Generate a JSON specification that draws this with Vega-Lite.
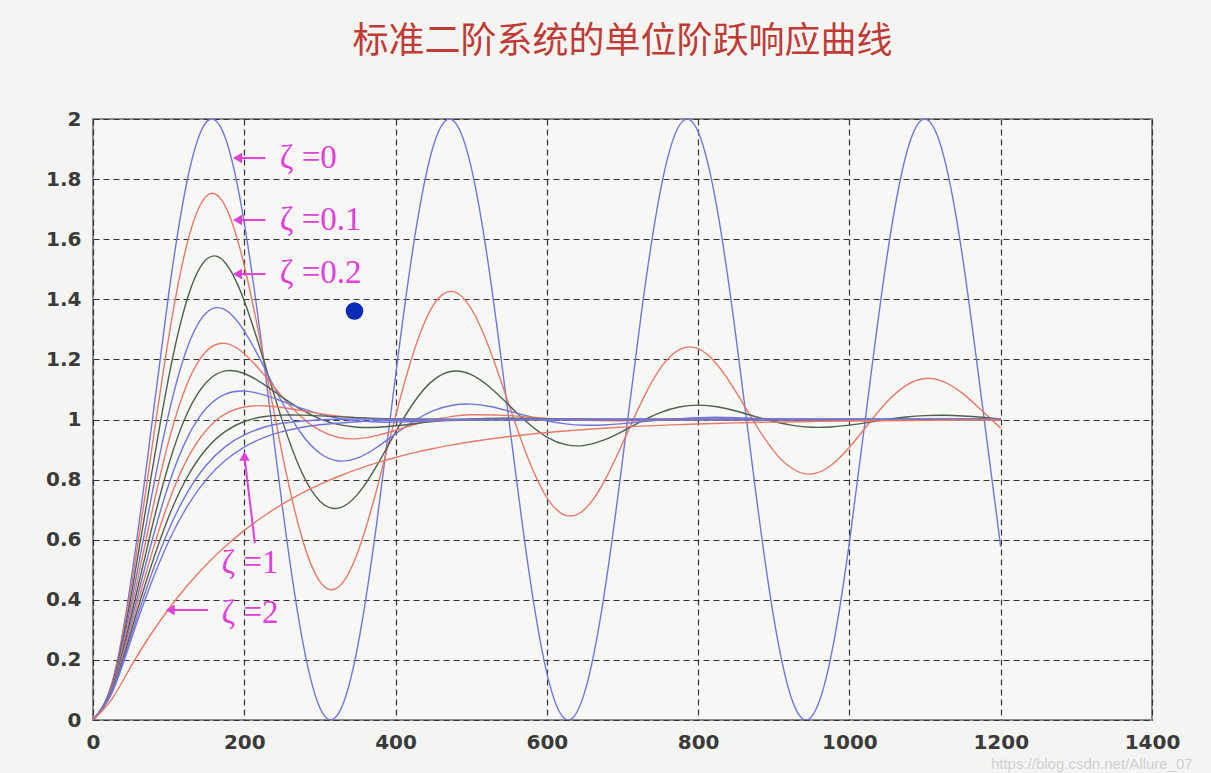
{
"$schema": "https://vega.github.io/schema/vega-lite/v6.json",
"width": 1059, "height": 601,
"autosize": {"type": "none"},
"padding": {"left": 93, "top": 119, "right": 59, "bottom": 53},
"background": "#f4f5f3",
"title": {"text": "标准二阶系统的单位阶跃响应曲线", "font": "Noto Sans CJK SC", "fontSize": 36, "fontWeight": "normal", "color": "#bf3b36", "anchor": "middle", "offset": 48},
"config": {"view": {"stroke": "#8c8c8c", "strokeWidth": 2, "fill": "#f7f8f6"}},
"datasets": {
"curves": [
{"z":"0","t":0,"y":0},{"z":"0","t":25,"y":0.1224},{"z":"0","t":50,"y":0.4597},{"z":"0","t":75,"y":0.9293},{"z":"0","t":100,"y":1.4161},{"z":"0","t":125,"y":1.8011},{"z":"0","t":150,"y":1.99},{"z":"0","t":175,"y":1.9365},{"z":"0","t":200,"y":1.6536},{"z":"0","t":225,"y":1.2108},{"z":"0","t":250,"y":0.7163},{"z":"0","t":275,"y":0.2913},{"z":"0","t":300,"y":0.0398},{"z":"0","t":325,"y":0.0234},{"z":"0","t":350,"y":0.2461},{"z":"0","t":375,"y":0.6534},{"z":"0","t":400,"y":1.1455},{"z":"0","t":425,"y":1.602},{"z":"0","t":450,"y":1.9111},{"z":"0","t":475,"y":1.9972},{"z":"0","t":500,"y":1.8391},{"z":"0","t":525,"y":1.4755},{"z":"0","t":550,"y":0.9956},{"z":"0","t":575,"y":0.5167},{"z":"0","t":600,"y":0.1561},{"z":"0","t":625,"y":0.0022},{"z":"0","t":650,"y":0.0926},{"z":"0","t":675,"y":0.4051},{"z":"0","t":700,"y":0.8633},{"z":"0","t":725,"y":1.3549},{"z":"0","t":750,"y":1.7597},{"z":"0","t":775,"y":1.9784},{"z":"0","t":800,"y":1.9577},{"z":"0","t":825,"y":1.7025},{"z":"0","t":850,"y":1.2752},{"z":"0","t":875,"y":0.7805},{"z":"0","t":900,"y":0.3397},{"z":"0","t":925,"y":0.0605},{"z":"0","t":950,"y":0.0113},{"z":"0","t":975,"y":0.2041},{"z":"0","t":1000,"y":0.5919},{"z":"0","t":1025,"y":1.0796},{"z":"0","t":1050,"y":1.5477},{"z":"0","t":1075,"y":1.8818},{"z":"0","t":1100,"y":2.0},{"z":"0","t":1125,"y":1.8733},{"z":"0","t":1150,"y":1.5328},{"z":"0","t":1175,"y":1.062},{"z":"0","t":1200,"y":0.5758},
{"z":"0.1","t":0,"y":0},{"z":"0.1","t":25,"y":0.1188},{"z":"0.1","t":50,"y":0.4337},{"z":"0.1","t":75,"y":0.8542},{"z":"0.1","t":100,"y":1.2726},{"z":"0.1","t":125,"y":1.5911},{"z":"0.1","t":150,"y":1.7438},{"z":"0.1","t":175,"y":1.7093},{"z":"0.1","t":200,"y":1.5116},{"z":"0.1","t":225,"y":1.2112},{"z":"0.1","t":250,"y":0.8871},{"z":"0.1","t":275,"y":0.6174},{"z":"0.1","t":300,"y":0.4606},{"z":"0.1","t":325,"y":0.4434},{"z":"0.1","t":350,"y":0.5581},{"z":"0.1","t":375,"y":0.7663},{"z":"0.1","t":400,"y":1.0114},{"z":"0.1","t":425,"y":1.2327},{"z":"0.1","t":450,"y":1.3805},{"z":"0.1","t":475,"y":1.4265},{"z":"0.1","t":500,"y":1.3686},{"z":"0.1","t":525,"y":1.2294},{"z":"0.1","t":550,"y":1.0485},{"z":"0.1","t":575,"y":0.8718},{"z":"0.1","t":600,"y":0.7403},{"z":"0.1","t":625,"y":0.6809},{"z":"0.1","t":650,"y":0.7014},{"z":"0.1","t":675,"y":0.7901},{"z":"0.1","t":700,"y":0.9201},{"z":"0.1","t":725,"y":1.0578},{"z":"0.1","t":750,"y":1.17},{"z":"0.1","t":775,"y":1.2328},{"z":"0.1","t":800,"y":1.2356},{"z":"0.1","t":825,"y":1.1831},{"z":"0.1","t":850,"y":1.0922},{"z":"0.1","t":875,"y":0.9875},{"z":"0.1","t":900,"y":0.8948},{"z":"0.1","t":925,"y":0.8362},{"z":"0.1","t":950,"y":0.8185},{"z":"0.1","t":975,"y":0.8461},{"z":"0.1","t":1000,"y":0.9074},{"z":"0.1","t":1025,"y":0.9851},{"z":"0.1","t":1050,"y":1.0597},{"z":"0.1","t":1075,"y":1.1138},{"z":"0.1","t":1100,"y":1.1366},{"z":"0.1","t":1125,"y":1.1255},{"z":"0.1","t":1150,"y":1.086},{"z":"0.1","t":1175,"y":1.0297},{"z":"0.1","t":1200,"y":0.9713},
{"z":"0.2","t":0,"y":0},{"z":"0.2","t":25,"y":0.1151},{"z":"0.2","t":50,"y":0.4075},{"z":"0.2","t":75,"y":0.7815},{"z":"0.2","t":100,"y":1.1395},{"z":"0.2","t":125,"y":1.4044},{"z":"0.2","t":150,"y":1.5333},{"z":"0.2","t":175,"y":1.521},{"z":"0.2","t":200,"y":1.3947},{"z":"0.2","t":225,"y":1.2021},{"z":"0.2","t":250,"y":0.9979},{"z":"0.2","t":275,"y":0.8294},{"z":"0.2","t":300,"y":0.7282},{"z":"0.2","t":325,"y":0.7051},{"z":"0.2","t":350,"y":0.7517},{"z":"0.2","t":375,"y":0.8456},{"z":"0.2","t":400,"y":0.9578},{"z":"0.2","t":425,"y":1.0599},{"z":"0.2","t":450,"y":1.131},{"z":"0.2","t":475,"y":1.1606},{"z":"0.2","t":500,"y":1.1493},{"z":"0.2","t":525,"y":1.1066},{"z":"0.2","t":550,"y":1.0476},{"z":"0.2","t":575,"y":0.9881},{"z":"0.2","t":600,"y":0.9416},{"z":"0.2","t":625,"y":0.9162},{"z":"0.2","t":650,"y":0.9138},{"z":"0.2","t":675,"y":0.9311},{"z":"0.2","t":700,"y":0.9608},{"z":"0.2","t":725,"y":0.994},{"z":"0.2","t":750,"y":1.0229},{"z":"0.2","t":775,"y":1.0416},{"z":"0.2","t":800,"y":1.0478},{"z":"0.2","t":825,"y":1.0423},{"z":"0.2","t":850,"y":1.0283},{"z":"0.2","t":875,"y":1.0104},{"z":"0.2","t":900,"y":0.9933},{"z":"0.2","t":925,"y":0.9806},{"z":"0.2","t":950,"y":0.9744},{"z":"0.2","t":975,"y":0.9751},{"z":"0.2","t":1000,"y":0.9811},{"z":"0.2","t":1025,"y":0.9904},{"z":"0.2","t":1050,"y":1.0001},{"z":"0.2","t":1075,"y":1.0082},{"z":"0.2","t":1100,"y":1.013},{"z":"0.2","t":1125,"y":1.0141},{"z":"0.2","t":1150,"y":1.0118},{"z":"0.2","t":1175,"y":1.0074},{"z":"0.2","t":1200,"y":1.002},
{"z":"0.3","t":0,"y":0},{"z":"0.3","t":25,"y":0.1111},{"z":"0.3","t":50,"y":0.3815},{"z":"0.3","t":75,"y":0.7124},{"z":"0.3","t":100,"y":1.0186},{"z":"0.3","t":125,"y":1.2415},{"z":"0.3","t":150,"y":1.3555},{"z":"0.3","t":175,"y":1.3647},{"z":"0.3","t":200,"y":1.2944},{"z":"0.3","t":225,"y":1.1801},{"z":"0.3","t":250,"y":1.0573},{"z":"0.3","t":275,"y":0.9542},{"z":"0.3","t":300,"y":0.8875},{"z":"0.3","t":325,"y":0.8619},{"z":"0.3","t":350,"y":0.8721},{"z":"0.3","t":375,"y":0.9068},{"z":"0.3","t":400,"y":0.9521},{"z":"0.3","t":425,"y":0.9959},{"z":"0.3","t":450,"y":1.0292},{"z":"0.3","t":475,"y":1.0476},{"z":"0.3","t":500,"y":1.0513},{"z":"0.3","t":525,"y":1.0431},{"z":"0.3","t":550,"y":1.028},{"z":"0.3","t":575,"y":1.0108},{"z":"0.3","t":600,"y":0.9958},{"z":"0.3","t":625,"y":0.9856},{"z":"0.3","t":650,"y":0.9811},{"z":"0.3","t":675,"y":0.9818},{"z":"0.3","t":700,"y":0.9861},{"z":"0.3","t":725,"y":0.9923},{"z":"0.3","t":750,"y":0.9985},{"z":"0.3","t":800,"y":1.0063},{"z":"0.3","t":850,"y":1.0063},{"z":"0.3","t":900,"y":1.0019},{"z":"0.3","t":950,"y":0.9982},{"z":"0.3","t":1000,"y":0.9974},{"z":"0.3","t":1100,"y":1.0004},{"z":"0.3","t":1200,"y":1.0},
{"z":"0.4","t":0,"y":0},{"z":"0.4","t":25,"y":0.1077},{"z":"0.4","t":50,"y":0.3599},{"z":"0.4","t":75,"y":0.6581},{"z":"0.4","t":100,"y":0.9271},{"z":"0.4","t":125,"y":1.1221},{"z":"0.4","t":150,"y":1.2281},{"z":"0.4","t":175,"y":1.2532},{"z":"0.4","t":200,"y":1.2189},{"z":"0.4","t":225,"y":1.1517},{"z":"0.4","t":250,"y":1.0761},{"z":"0.4","t":275,"y":1.01},{"z":"0.4","t":300,"y":0.9637},{"z":"0.4","t":325,"y":0.94},{"z":"0.4","t":350,"y":0.9362},{"z":"0.4","t":375,"y":0.9465},{"z":"0.4","t":400,"y":0.9642},{"z":"0.4","t":425,"y":0.9833},{"z":"0.4","t":450,"y":0.9995},{"z":"0.4","t":475,"y":1.0104},{"z":"0.4","t":500,"y":1.0156},{"z":"0.4","t":550,"y":1.013},{"z":"0.4","t":600,"y":1.0036},{"z":"0.4","t":650,"y":0.9971},{"z":"0.4","t":700,"y":0.996},{"z":"0.4","t":750,"y":0.998},{"z":"0.4","t":800,"y":1.0},{"z":"0.4","t":900,"y":1.0},{"z":"0.4","t":1000,"y":1.0},{"z":"0.4","t":1200,"y":1.0},
{"z":"0.5","t":0,"y":0},{"z":"0.5","t":25,"y":0.1044},{"z":"0.5","t":50,"y":0.3403},{"z":"0.5","t":75,"y":0.6104},{"z":"0.5","t":100,"y":0.8494},{"z":"0.5","t":125,"y":1.0234},{"z":"0.5","t":150,"y":1.1243},{"z":"0.5","t":175,"y":1.1617},{"z":"0.5","t":200,"y":1.1531},{"z":"0.5","t":225,"y":1.1184},{"z":"0.5","t":250,"y":1.0746},{"z":"0.5","t":275,"y":1.0336},{"z":"0.5","t":300,"y":1.0023},{"z":"0.5","t":325,"y":0.9828},{"z":"0.5","t":350,"y":0.9744},{"z":"0.5","t":375,"y":0.9742},{"z":"0.5","t":400,"y":0.979},{"z":"0.5","t":425,"y":0.986},{"z":"0.5","t":450,"y":0.9929},{"z":"0.5","t":500,"y":1.0022},{"z":"0.5","t":550,"y":1.0043},{"z":"0.5","t":600,"y":1.0026},{"z":"0.5","t":700,"y":1.0},{"z":"0.5","t":800,"y":1.0},{"z":"0.5","t":1000,"y":1.0},{"z":"0.5","t":1200,"y":1.0},
{"z":"0.6","t":0,"y":0},{"z":"0.6","t":25,"y":0.1013},{"z":"0.6","t":50,"y":0.3223},{"z":"0.6","t":75,"y":0.5684},{"z":"0.6","t":100,"y":0.783},{"z":"0.6","t":125,"y":0.9407},{"z":"0.6","t":150,"y":1.0381},{"z":"0.6","t":175,"y":1.0846},{"z":"0.6","t":200,"y":1.0945},{"z":"0.6","t":225,"y":1.0826},{"z":"0.6","t":250,"y":1.0608},{"z":"0.6","t":275,"y":1.0377},{"z":"0.6","t":300,"y":1.018},{"z":"0.6","t":325,"y":1.0039},{"z":"0.6","t":350,"y":0.9955},{"z":"0.6","t":375,"y":0.9917},{"z":"0.6","t":400,"y":0.9911},{"z":"0.6","t":450,"y":0.9946},{"z":"0.6","t":500,"y":0.9985},{"z":"0.6","t":600,"y":1.0},{"z":"0.6","t":800,"y":1.0},{"z":"0.6","t":1000,"y":1.0},{"z":"0.6","t":1200,"y":1.0},
{"z":"0.7","t":0,"y":0},{"z":"0.7","t":25,"y":0.0983},{"z":"0.7","t":50,"y":0.3059},{"z":"0.7","t":75,"y":0.5313},{"z":"0.7","t":100,"y":0.7257},{"z":"0.7","t":125,"y":0.8706},{"z":"0.7","t":150,"y":0.9653},{"z":"0.7","t":175,"y":1.0185},{"z":"0.7","t":200,"y":1.0416},{"z":"0.7","t":225,"y":1.0458},{"z":"0.7","t":250,"y":1.0398},{"z":"0.7","t":275,"y":1.0298},{"z":"0.7","t":300,"y":1.0196},{"z":"0.7","t":325,"y":1.0111},{"z":"0.7","t":350,"y":1.0049},{"z":"0.7","t":400,"y":0.9988},{"z":"0.7","t":450,"y":0.998},{"z":"0.7","t":500,"y":1.0},{"z":"0.7","t":600,"y":1.0},{"z":"0.7","t":800,"y":1.0},{"z":"0.7","t":1000,"y":1.0},{"z":"0.7","t":1200,"y":1.0},
{"z":"0.8","t":0,"y":0},{"z":"0.8","t":25,"y":0.0955},{"z":"0.8","t":50,"y":0.2909},{"z":"0.8","t":75,"y":0.4982},{"z":"0.8","t":100,"y":0.6759},{"z":"0.8","t":125,"y":0.8104},{"z":"0.8","t":150,"y":0.9028},{"z":"0.8","t":175,"y":0.9607},{"z":"0.8","t":200,"y":0.9933},{"z":"0.8","t":225,"y":1.0091},{"z":"0.8","t":250,"y":1.0147},{"z":"0.8","t":275,"y":1.0147},{"z":"0.8","t":300,"y":1.0122},{"z":"0.8","t":350,"y":1.0061},{"z":"0.8","t":400,"y":1.0021},{"z":"0.8","t":500,"y":1.0},{"z":"0.8","t":600,"y":1.0},{"z":"0.8","t":800,"y":1.0},{"z":"0.8","t":1000,"y":1.0},{"z":"0.8","t":1200,"y":1.0},
{"z":"0.9","t":0,"y":0},{"z":"0.9","t":25,"y":0.0928},{"z":"0.9","t":50,"y":0.2769},{"z":"0.9","t":75,"y":0.4687},{"z":"0.9","t":100,"y":0.6324},{"z":"0.9","t":125,"y":0.7583},{"z":"0.9","t":150,"y":0.8485},{"z":"0.9","t":175,"y":0.9096},{"z":"0.9","t":200,"y":0.9492},{"z":"0.9","t":225,"y":0.9734},{"z":"0.9","t":250,"y":0.9875},{"z":"0.9","t":300,"y":0.9992},{"z":"0.9","t":350,"y":1.0015},{"z":"0.9","t":400,"y":1.0012},{"z":"0.9","t":500,"y":1.0},{"z":"0.9","t":600,"y":1.0},{"z":"0.9","t":800,"y":1.0},{"z":"0.9","t":1000,"y":1.0},{"z":"0.9","t":1200,"y":1.0},
{"z":"1","t":0,"y":0},{"z":"1","t":25,"y":0.0902},{"z":"1","t":50,"y":0.2642},{"z":"1","t":75,"y":0.4422},{"z":"1","t":100,"y":0.594},{"z":"1","t":125,"y":0.7127},{"z":"1","t":150,"y":0.8009},{"z":"1","t":175,"y":0.8641},{"z":"1","t":200,"y":0.9084},{"z":"1","t":225,"y":0.9389},{"z":"1","t":250,"y":0.9596},{"z":"1","t":275,"y":0.9734},{"z":"1","t":300,"y":0.9826},{"z":"1","t":350,"y":0.9927},{"z":"1","t":400,"y":0.997},{"z":"1","t":500,"y":0.9995},{"z":"1","t":600,"y":1.0},{"z":"1","t":800,"y":1.0},{"z":"1","t":1000,"y":1.0},{"z":"1","t":1200,"y":1.0},
{"z":"2","t":0,"y":0},{"z":"2","t":25,"y":0.0697},{"z":"2","t":50,"y":0.1776},{"z":"2","t":75,"y":0.2795},{"z":"2","t":100,"y":0.3695},{"z":"2","t":125,"y":0.4486},{"z":"2","t":150,"y":0.5177},{"z":"2","t":175,"y":0.5782},{"z":"2","t":200,"y":0.6311},{"z":"2","t":225,"y":0.6773},{"z":"2","t":250,"y":0.7178},{"z":"2","t":275,"y":0.7532},{"z":"2","t":300,"y":0.7842},{"z":"2","t":325,"y":0.8112},{"z":"2","t":350,"y":0.8349},{"z":"2","t":375,"y":0.8556},{"z":"2","t":400,"y":0.8737},{"z":"2","t":425,"y":0.8896},{"z":"2","t":450,"y":0.9034},{"z":"2","t":475,"y":0.9155},{"z":"2","t":500,"y":0.9261},{"z":"2","t":550,"y":0.9434},{"z":"2","t":600,"y":0.9568},{"z":"2","t":650,"y":0.9669},{"z":"2","t":700,"y":0.9747},{"z":"2","t":750,"y":0.9806},{"z":"2","t":800,"y":0.9852},{"z":"2","t":850,"y":0.9887},{"z":"2","t":900,"y":0.9914},{"z":"2","t":950,"y":0.9934},{"z":"2","t":1000,"y":0.9949},{"z":"2","t":1100,"y":0.997},{"z":"2","t":1200,"y":0.9983}
],
"labels": [
{"label":"ζ =0","t":247,"y":1.87},
{"label":"ζ =0.1","t":247,"y":1.664},
{"label":"ζ =0.2","t":247,"y":1.487},
{"label":"ζ =1","t":170,"y":0.522},
{"label":"ζ =2","t":170,"y":0.356}
],
"arrows": [
{"t":228,"t2":194,"y":1.87,"y2":1.87},
{"t":228,"t2":194,"y":1.664,"y2":1.664},
{"t":228,"t2":194,"y":1.484,"y2":1.484},
{"t":152,"t2":105,"y":0.366,"y2":0.366},
{"t":214,"t2":200.5,"y":0.589,"y2":0.87}
],
"headsLeft": [
{"t":191,"y":1.87},{"t":191,"y":1.664},{"t":191,"y":1.484},{"t":102,"y":0.366}
],
"headsUp": [{"t":200.3,"y":0.878}],
"dot": [{"t":345.7,"y":1.361}],
"mark": [{"text":"https://blog.csdn.net/Allure_07","t":1187,"y":-0.147}]
},
"layer": [
{
"data": {"name": "curves"},
"mark": {"type": "line", "interpolate": "natural", "strokeWidth": 1.4, "clip": true},
"encoding": {
"x": {"field": "t", "type": "quantitative", "scale": {"domain": [0, 1400], "nice": false, "zero": false},
 "axis": {"values": [0,200,400,600,800,1000,1200,1400], "format": "d", "labelFlush": false, "title": null, "grid": true, "gridDash": [6,4], "gridColor": "#333333", "gridWidth": 1.2, "domain": false, "ticks": false, "labelFont": "DejaVu Sans", "labelFontWeight": "bold", "labelFontSize": 20, "labelColor": "#3a3a3a", "labelPadding": 12}},
"y": {"field": "y", "type": "quantitative", "scale": {"domain": [0, 2], "nice": false, "zero": false},
 "axis": {"values": [0,0.2,0.4,0.6,0.8,1,1.2,1.4,1.6,1.8,2], "format": "~g", "labelFlush": false, "title": null, "grid": true, "gridDash": [6,4], "gridColor": "#333333", "gridWidth": 1.2, "domain": false, "ticks": false, "labelFont": "DejaVu Sans", "labelFontWeight": "bold", "labelFontSize": 20, "labelColor": "#3a3a3a", "labelPadding": 12}},
"color": {"field": "z", "type": "nominal", "legend": null,
 "scale": {"domain": ["0","0.1","0.2","0.3","0.4","0.5","0.6","0.7","0.8","0.9","1","2"],
 "range": ["#7175da","#e67a68","#4f5f4f","#7175da","#e67a68","#4f5f4f","#7175da","#e67a68","#4f5f4f","#7175da","#7175da","#e67a68"]}}
}
},
{
"data": {"name": "arrows"},
"mark": {"type": "rule", "color": "#e040d8", "strokeWidth": 2},
"encoding": {"x": {"field": "t", "type": "quantitative"}, "x2": {"field": "t2"}, "y": {"field": "y", "type": "quantitative"}, "y2": {"field": "y2"}}
},
{
"data": {"name": "headsLeft"},
"mark": {"type": "point", "shape": "triangle-left", "filled": true, "color": "#e040d8", "size": 110, "opacity": 1},
"encoding": {"x": {"field": "t", "type": "quantitative"}, "y": {"field": "y", "type": "quantitative"}}
},
{
"data": {"name": "headsUp"},
"mark": {"type": "point", "shape": "triangle-up", "filled": true, "color": "#e040d8", "size": 110, "opacity": 1},
"encoding": {"x": {"field": "t", "type": "quantitative"}, "y": {"field": "y", "type": "quantitative"}}
},
{
"data": {"name": "labels"},
"mark": {"type": "text", "font": "Liberation Serif", "fontSize": 33, "color": "#e040d8", "align": "left", "baseline": "middle"},
"encoding": {"x": {"field": "t", "type": "quantitative"}, "y": {"field": "y", "type": "quantitative"}, "text": {"field": "label"}}
},
{
"data": {"name": "dot"},
"mark": {"type": "point", "shape": "circle", "filled": true, "color": "#0a2bb5", "size": 310, "opacity": 1},
"encoding": {"x": {"field": "t", "type": "quantitative"}, "y": {"field": "y", "type": "quantitative"}}
},
{
"data": {"name": "mark"},
"mark": {"type": "text", "font": "Liberation Sans", "fontSize": 15, "color": "#cfcfcf", "align": "left", "baseline": "middle", "clip": false},
"encoding": {"x": {"field": "t", "type": "quantitative"}, "y": {"field": "y", "type": "quantitative"}, "text": {"field": "text"}}
}
]
}
